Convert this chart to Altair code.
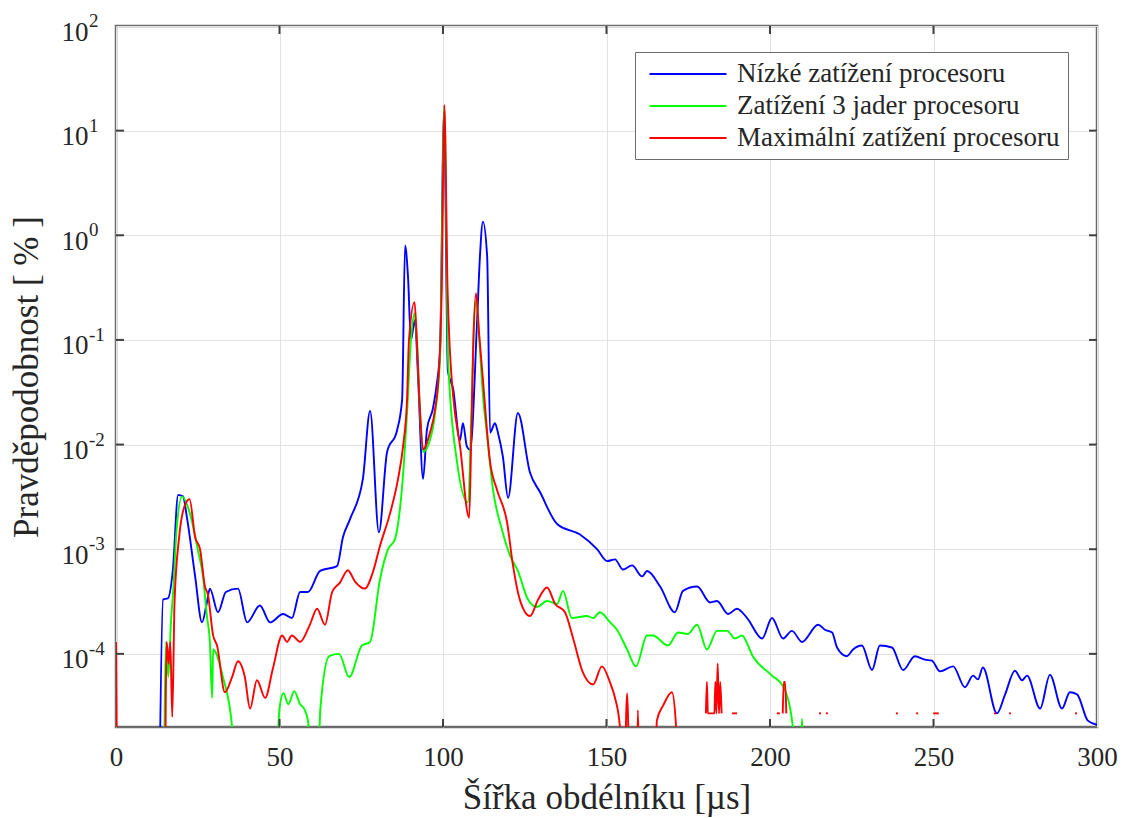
import altair as alt
import pandas as pd

FONT = "Liberation Serif, Times New Roman, serif"
TXT = "#262626"

SERIES = ["Nízké zatížení procesoru", "Zatížení 3 jader procesoru", "Maximální zatížení procesoru"]
COLORS = ["#0000ff", "#00ff00", "#ff0000"]

x_ticks = [0, 50, 100, 150, 200, 250, 300]
y_ticks = [1e-4, 1e-3, 1e-2, 1e-1, 1e0, 1e1, 1e2]
y_exponents = ["-4", "-3", "-2", "-1", "0", "1", "2"]
x_inner_ticks = [50, 100, 150, 200, 250]
y_inner_ticks = [1e-4, 1e-3, 1e-2, 1e-1, 1e0, 1e1]

# value 1e-6 = zero probability (below the visible log range)
blue = [(13.0, 1e-6), (14.4, 3.3e-4), (15.9, 3.4e-4), (17.4, 6.4e-4), (19.0, 3.3e-3), (20.5, 3.2e-3),
        (21.7, 2.0e-3), (24.2, 5.5e-4), (26.3, 2.0e-4), (27.8, 3.1e-4), (28.7, 4.2e-4), (31.2, 2.5e-4),
        (33.6, 3.9e-4), (37.3, 4.2e-4), (40.1, 2.0e-4), (44.0, 2.9e-4), (47.1, 2.0e-4), (51.1, 2.4e-4),
        (53.8, 2.2e-4), (56.3, 3.9e-4), (58.7, 3.9e-4), (62.4, 6.2e-4), (67.6, 6.9e-4), (69.4, 1.3e-3),
        (71.6, 1.95e-3), (75.5, 4.7e-3), (77.7, 0.021), (80.4, 1.45e-3), (82.9, 8.5e-3), (85.9, 0.0135),
        (87.5, 0.027), (88.4, 0.80), (89.3, 0.4), (90.2, 0.1), (91.4, 0.155), (92.4, 0.042), (93.9, 4.7e-3),
        (95.1, 0.014), (96.9, 0.022), (98.2, 0.04), (99.1, 0.08), (100.3, 15.0), (101.5, 0.05), (103.1, 0.034),
        (105.2, 0.011), (106.1, 0.016), (107.3, 9.6e-3), (108.3, 8.9e-3), (110.4, 0.145), (111.3, 0.63),
        (112.2, 1.35), (113.5, 0.63), (114.4, 0.013), (115.9, 0.016), (116.8, 0.013), (118.3, 7.7e-3),
        (119.9, 3.1e-3), (122.9, 0.020), (126.6, 5.4e-3), (129.7, 3.5e-3), (134.9, 1.74e-3), (141.9, 1.38e-3),
        (147.1, 1.0e-3), (150.2, 7.7e-4), (152.6, 8.0e-4), (155.0, 6.4e-4), (157.8, 7.0e-4), (160.9, 5.5e-4),
        (162.4, 6.2e-4), (166.4, 4.4e-4), (170.9, 2.5e-4), (173.4, 4.0e-4), (177.7, 4.4e-4), (181.7, 3.1e-4),
        (183.8, 3.2e-4), (187.2, 2.4e-4), (189.9, 2.7e-4), (193.0, 2.2e-4), (197.6, 1.4e-4), (200.6, 2.2e-4),
        (204.0, 1.4e-4), (206.7, 1.66e-4), (209.8, 1.3e-4), (214.7, 1.9e-4), (216.8, 1.7e-4), (219.0, 1.6e-4),
        (220.5, 1.15e-4), (223.5, 9.5e-5), (225.4, 1.1e-4), (228.1, 1.2e-4), (231.2, 7.0e-5), (233.6, 1.2e-4),
        (237.3, 1.15e-4), (240.7, 7.0e-5), (244.3, 9.5e-5), (247.4, 8.8e-5), (249.5, 8.6e-5), (252.0, 6.8e-5),
        (256.0, 7.6e-5), (259.6, 4.8e-5), (262.1, 6.2e-5), (263.6, 5.7e-5), (265.1, 7.4e-5), (269.4, 2.7e-5),
        (271.9, 4.1e-5), (274.9, 6.9e-5), (277.1, 5.6e-5), (278.6, 6.2e-5), (282.6, 3.0e-5), (285.6, 6.3e-5),
        (289.3, 3.0e-5), (291.7, 4.3e-5), (293.9, 4.1e-5), (297.2, 2.3e-5), (300.0, 2.1e-5)]

green_segments = [
    [(0.0, 2.7e-5), (0.3, 1e-6)],
    [(14.5, 1e-6), (15.3, 1.3e-4), (16.0, 6e-5), (16.8, 2.0e-4), (17.5, 4e-4), (18.5, 1.5e-3), (20.2, 3.2e-3),
     (22.6, 2.2e-3), (25.1, 9.6e-4), (26.6, 5.5e-4), (27.8, 2.3e-4), (28.7, 1.3e-4), (29.4, 3.8e-5),
     (29.7, 1.1e-4), (32.7, 6e-5), (35.5, 2.0e-5), (36.5, 1e-6)],
    [(48.5, 1e-6), (50.0, 3.0e-5), (51.2, 4.2e-5), (52.7, 3.3e-5), (54.5, 4.4e-5), (56.3, 3.3e-5),
     (57.5, 3.0e-5), (58.8, 2.2e-5), (59.5, 1e-6)],
    [(61.5, 1e-6), (62.5, 3e-5), (65.2, 9.5e-5), (68.2, 1.0e-4), (71.3, 6e-5), (75.2, 1.2e-4), (77.7, 1.3e-4),
     (80.7, 5.1e-4), (83.2, 1e-3), (85.3, 1.25e-3), (87.5, 4e-3), (89.0, 0.02), (90.2, 0.1), (91.3, 0.18),
     (92.0, 0.1), (93.0, 0.02), (93.9, 8.5e-3), (96.0, 0.011), (97.6, 0.02), (99.1, 0.07), (100.4, 17.0),
     (101.6, 0.06), (104.3, 6.8e-3), (107.6, 2.8e-3), (108.7, 0.02), (109.4, 0.12), (110.2, 0.24),
     (111.1, 0.1), (112.2, 0.03), (113.5, 0.012), (115.3, 3.7e-3), (118.0, 1.55e-3), (120.5, 8.7e-4),
     (122.9, 6.2e-4), (126.0, 3.3e-4), (128.7, 2.8e-4), (131.8, 3.2e-4), (134.9, 3.0e-4), (136.7, 4.0e-4),
     (139.4, 2.2e-4), (144.0, 2.3e-4), (145.9, 2.2e-4), (148.0, 2.5e-4), (151.1, 2.0e-4), (153.2, 1.7e-4),
     (156.3, 1.1e-4), (159.0, 7.6e-5), (162.4, 1.5e-4), (164.2, 1.5e-4), (168.8, 1.2e-4), (171.9, 1.6e-4),
     (174.9, 1.55e-4), (177.7, 1.9e-4), (180.7, 1.1e-4), (183.8, 1.66e-4), (186.9, 1.66e-4), (189.3, 1.4e-4),
     (191.4, 1.5e-4), (194.8, 9.4e-5), (200.6, 6.2e-5), (204.0, 4.9e-5), (207.0, 2.0e-5), (208.0, 1e-6)],
    [(208.8, 1e-6), (209.8, 2.4e-5), (210.6, 1e-6)],
]

red_segments = [
    [(0.0, 1.3e-4), (0.5, 1e-6)],
    [(14.9, 1e-6), (15.5, 1.3e-4), (16.1, 8e-5), (16.6, 1.3e-4), (17.2, 2.5e-5), (17.9, 3.1e-4), (19.3, 1.3e-3),
     (21.0, 2.6e-3), (22.5, 3.0e-3), (24.2, 1.3e-3), (25.7, 1.0e-3), (27.2, 4.4e-4), (28.1, 3.7e-4),
     (29.7, 1.5e-4), (30.9, 1.2e-4), (33.3, 4.3e-5), (35.5, 6e-5), (37.3, 8.5e-5), (39.4, 6e-5), (41.0, 3e-5),
     (43.1, 5.6e-5), (45.6, 3.8e-5), (48.0, 7.3e-5), (50.8, 1.5e-4), (52.3, 1.3e-4), (53.8, 1.5e-4),
     (56.3, 1.3e-4), (59.3, 1.9e-4), (61.5, 2.7e-4), (63.9, 1.9e-4), (66.1, 3.9e-4), (68.5, 4.8e-4),
     (70.9, 6.3e-4), (73.1, 4.9e-4), (76.1, 4.2e-4), (78.6, 6.1e-4), (80.7, 1.07e-3), (83.8, 2.2e-3),
     (86.2, 4.6e-3), (87.8, 9.7e-3), (89.0, 0.027), (89.6, 0.1), (91.3, 0.23), (92.0, 0.1), (93.0, 0.02),
     (93.9, 9e-3), (96.0, 0.013), (97.6, 0.022), (98.9, 0.06), (99.6, 0.3), (100.4, 17.6), (101.4, 0.3),
     (102.1, 0.08), (103.1, 0.029), (105.2, 9.7e-3), (108.0, 2.0e-3), (108.6, 0.01), (109.2, 0.08),
     (110.1, 0.28), (111.0, 0.12), (112.2, 0.042), (114.4, 6.8e-3), (116.5, 3.7e-3), (119.6, 1.8e-3),
     (121.4, 7e-4), (123.5, 3.3e-4), (126.6, 2.3e-4), (129.1, 3.3e-4), (131.8, 4.3e-4), (134.3, 3.0e-4),
     (137.3, 2.5e-4), (139.8, 1.4e-4), (142.8, 6.6e-5), (145.9, 5.1e-5), (148.6, 7.6e-5), (151.1, 5.3e-5),
     (152.6, 3.8e-5), (154.1, 2e-5), (155.0, 1e-6), (156.3, 4.2e-5), (157.5, 1e-6), (158.8, 1e-6),
     (159.6, 2.9e-5), (160.6, 1e-6), (164.5, 1e-6), (165.4, 2.3e-5), (167.3, 3.2e-5), (170.0, 4.3e-5),
     (171.2, 2.2e-5), (171.7, 1e-6)],
    [(180.4, 2.7e-5), (180.7, 5.4e-5), (181.0, 2.7e-5), (183.0, 2.7e-5), (183.3, 5.4e-5), (183.6, 2.7e-5),
     (184.0, 8.1e-5), (184.4, 2.7e-5), (184.8, 5.4e-5), (185.2, 2.7e-5)],
    [(188.4, 2.7e-5), (189.9, 2.7e-5)],
    [(202.1, 2.7e-5), (203.0, 2.7e-5)],
    [(203.9, 2.7e-5), (204.2, 5.4e-5), (204.6, 5.4e-5), (205.0, 2.7e-5)],
    [(215.0, 2.7e-5), (215.6, 2.7e-5)],
    [(217.1, 2.7e-5), (217.7, 2.7e-5)],
    [(238.5, 2.7e-5), (239.1, 2.7e-5)],
    [(244.7, 2.7e-5), (245.3, 2.7e-5)],
    [(249.9, 2.7e-5), (251.6, 2.7e-5)],
    [(268.5, 2.7e-5), (269.1, 2.7e-5)],
    [(273.1, 2.7e-5), (273.7, 2.7e-5)],
    [(293.3, 2.7e-5), (293.9, 2.7e-5)],
]

rows = []
for x, y in blue:
    rows.append({"series": SERIES[0], "seg": "a00", "x": x, "y": y})
for i, seg in enumerate(green_segments):
    for x, y in seg:
        rows.append({"series": SERIES[1], "seg": f"b{i:02d}", "x": x, "y": y})
for i, seg in enumerate(red_segments):
    for x, y in seg:
        rows.append({"series": SERIES[2], "seg": f"c{i:02d}", "x": x, "y": y})
df = pd.DataFrame(rows)

W, H = 981, 701
xs = alt.Scale(domain=[0, 300], nice=False, zero=False)
ys = alt.Scale(type="log", domain=[2e-5, 100], nice=False)

lines = alt.Chart(df).mark_line(clip=True, strokeWidth=1.9, interpolate="monotone").encode(
    x=alt.X("x:Q", scale=xs, axis=alt.Axis(values=x_ticks, title="Šířka obdélníku [µs]",
                                          labelPadding=17, labelFlush=False, labelOverlap=False,
                                          titleY=81, titleBaseline="alphabetic")),
    y=alt.Y("y:Q", scale=ys, axis=alt.Axis(values=y_ticks, labelExpr="'10'", title="Pravděpodobnost [ % ]",
                                          labelPadding=28, labelOffset=6, labelFlush=False,
                                          labelOverlap=False, titleX=-79, titleBaseline="alphabetic")),
    color=alt.Color("series:N", scale=alt.Scale(domain=SERIES, range=COLORS),
                    legend=alt.Legend(title=None, orient="none", legendX=519, legendY=26,
                                      direction="vertical", padding=8, strokeColor="#6b6b6b",
                                      fillColor="white", symbolType="M-3,0H3", symbolSize=660,
                                      symbolStrokeWidth=1.9, symbolOffset=31, labelOffset=35,
                                      labelFont=FONT, labelFontSize=27, labelColor=TXT,
                                      rowPadding=5, labelLimit=600)),
    detail="seg:N",
)

tick_col = "#404040"
xt = pd.DataFrame({"x": x_inner_ticks})
yt = pd.DataFrame({"y": y_inner_ticks})
bottom_ticks = alt.Chart(xt).mark_rule(color=tick_col, strokeWidth=2).encode(
    x=alt.X("x:Q", scale=xs), y=alt.value(H), y2=alt.value(H - 8))
top_ticks = alt.Chart(xt).mark_rule(color=tick_col, strokeWidth=2).encode(
    x=alt.X("x:Q", scale=xs), y=alt.value(0), y2=alt.value(8))
left_ticks = alt.Chart(yt).mark_rule(color=tick_col, strokeWidth=2).encode(
    y=alt.Y("y:Q", scale=ys), x=alt.value(0), x2=alt.value(8))
right_ticks = alt.Chart(yt).mark_rule(color=tick_col, strokeWidth=2).encode(
    y=alt.Y("y:Q", scale=ys), x=alt.value(W), x2=alt.value(W - 8))

exp_df = pd.DataFrame({"y": y_ticks, "e": y_exponents})
exps = alt.Chart(exp_df).mark_text(align="left", baseline="middle", font=FONT, fontSize=19,
                                   color=TXT, dy=-5).encode(
    x=alt.value(-27), y=alt.Y("y:Q", scale=ys), text="e:N")

chart = alt.layer(lines, bottom_ticks, top_ticks, left_ticks, right_ticks, exps).properties(
    width=W, height=H,
    padding={"left": 108, "top": 18, "right": 24, "bottom": 92},
    autosize=alt.AutoSizeParams(type="none"),
).configure_view(
    stroke="#6b6b6b", strokeWidth=2.5
).configure_axis(
    grid=True, gridColor="#e2e2e2", gridWidth=1, domain=False, ticks=False, tickSize=0,
    labelFont=FONT, labelFontSize=27, labelColor=TXT,
    titleFont=FONT, titleFontSize=35, titleFontWeight="normal", titleColor=TXT,
)

chart.save("out.html", embed_options={"renderer": "svg", "actions": False})
